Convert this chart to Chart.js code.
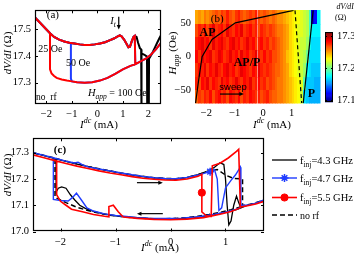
<!DOCTYPE html>
<html>
<head>
<meta charset="utf-8">
<script src="https://cdn.jsdelivr.net/npm/chart.js@4.4.1/dist/chart.umd.min.js"></script>
<style>
  body { margin: 0; background: #fff; }
  #wrap { position: relative; width: 354px; height: 256px; overflow: hidden; background: #fff; }
  canvas { position: absolute; }
</style>
</head>
<body>
<div id="wrap">
  <canvas id="chartA" width="177" height="130" style="left:0;top:0"></canvas>
  <canvas id="chartB" width="160" height="130" style="left:162px;top:0"></canvas>
  <canvas id="chartBar" width="32" height="112" style="left:322px;top:0"></canvas>
  <canvas id="chartC" width="354" height="128" style="left:0;top:128px"></canvas>
</div>
<script>
// ---------- panel (a): no rf, three fields ----------
const aTicksX = [-2, -1, 0, 1, 2];
const aTicksY = [17.3, 17.4, 17.5];
// AP branch, shared by the three fields (sweep up)
const apI = [-2.45, -2.3, -2.15, -2.0, -1.85, -1.7, -1.5, -1.3, -1.1, -0.9, -0.7, -0.5, -0.3, -0.1, 0.1, 0.3, 0.5, 0.65, 0.8, 0.88, 0.95, 1.05, 1.15, 1.22, 1.28, 1.35, 1.42, 1.47];
const apV = [17.545, 17.53, 17.515, 17.5, 17.485, 17.472, 17.462, 17.455, 17.45, 17.447, 17.444, 17.442, 17.442, 17.444, 17.447, 17.452, 17.46, 17.466, 17.474, 17.478, 17.474, 17.462, 17.445, 17.433, 17.435, 17.455, 17.472, 17.476];
// P branch (25 and 50 Oe)
const pI = [-1.86, -1.8, -1.7, -1.6, -1.4, -1.2, -1.0, -0.8, -0.5, -0.2, 0.1, 0.4, 0.7, 1.0, 1.3, 1.5, 1.7, 1.9, 2.1, 2.3, 2.5];
const pV = [17.35, 17.335, 17.325, 17.318, 17.312, 17.308, 17.305, 17.302, 17.3, 17.302, 17.308, 17.318, 17.333, 17.35, 17.363, 17.37, 17.38, 17.39, 17.405, 17.425, 17.45];
// 100 Oe after the AP branch: sharp dips instead of switching
const a100I = [1.54, 1.6, 1.67, 1.72, 1.73, 1.74, 1.85, 1.95, 1.96, 2.02, 2.03, 2.15, 2.25, 2.35, 2.45, 2.5];
const a100V = [17.472, 17.45, 17.43, 17.425, 17.15, 17.41, 17.405, 17.398, 17.15, 17.15, 17.39, 17.41, 17.43, 17.45, 17.47, 17.478];
const switch25 = [-1.86, 17.485];
const switch50 = [-1.04, 17.452];
const switchUp = [1.49, 17.37];

// ---------- panel (b): map of dV/dI (Ohm) vs I and H ----------
const bTicksX = [-2, -1, 0, 1];
const bTicksY = [-50, 0, 50];
const barTicks = [17.1, 17.2, 17.3];
const cLim = [17.095, 17.313];
const mapH = [60, 40, 20, 0, -20, -40, -60];        // row centres, 20 Oe tall
const mapI = Array.from({ length: 44 }, (_, j) => -2.35 + 0.1 * j); // column centres, 0.1 mA wide
const mapV = [
  [17.25, 17.255, 17.25, 17.26, 17.255, 17.26, 17.265, 17.27, 17.265, 17.275, 17.27, 17.28, 17.27, 17.265, 17.275, 17.28, 17.27, 17.265, 17.27, 17.275, 17.27, 17.28, 17.27, 17.265, 17.27, 17.265, 17.26, 17.265, 17.26, 17.255, 17.255, 17.25, 17.245, 17.24, 17.235, 17.23, 17.23, 17.225, 17.22, 17.215, 17.19, 17.115, 17.125, 17.175],
  [17.27, 17.28, 17.275, 17.285, 17.27, 17.28, 17.29, 17.275, 17.28, 17.285, 17.275, 17.29, 17.28, 17.275, 17.285, 17.28, 17.29, 17.275, 17.28, 17.285, 17.275, 17.28, 17.27, 17.28, 17.275, 17.27, 17.275, 17.27, 17.265, 17.26, 17.26, 17.255, 17.25, 17.24, 17.235, 17.23, 17.225, 17.225, 17.22, 17.215, 17.19, 17.175, 17.175, 17.175],
  [17.28, 17.285, 17.29, 17.28, 17.285, 17.275, 17.29, 17.28, 17.285, 17.29, 17.28, 17.275, 17.285, 17.29, 17.28, 17.285, 17.275, 17.28, 17.29, 17.28, 17.285, 17.275, 17.28, 17.285, 17.275, 17.28, 17.27, 17.275, 17.27, 17.265, 17.26, 17.255, 17.25, 17.24, 17.235, 17.23, 17.225, 17.22, 17.22, 17.21, 17.18, 17.17, 17.17, 17.17],
  [17.285, 17.275, 17.29, 17.28, 17.285, 17.29, 17.275, 17.28, 17.29, 17.285, 17.275, 17.28, 17.29, 17.28, 17.285, 17.275, 17.29, 17.28, 17.285, 17.275, 17.28, 17.29, 17.28, 17.275, 17.285, 17.275, 17.28, 17.27, 17.27, 17.265, 17.26, 17.255, 17.245, 17.24, 17.235, 17.23, 17.225, 17.22, 17.215, 17.2, 17.17, 17.17, 17.17, 17.17],
  [17.275, 17.285, 17.28, 17.29, 17.275, 17.285, 17.28, 17.29, 17.28, 17.275, 17.285, 17.29, 17.28, 17.285, 17.275, 17.28, 17.29, 17.285, 17.28, 17.275, 17.285, 17.28, 17.29, 17.28, 17.275, 17.28, 17.275, 17.27, 17.265, 17.265, 17.26, 17.255, 17.25, 17.24, 17.235, 17.23, 17.225, 17.22, 17.21, 17.175, 17.17, 17.165, 17.165, 17.165],
  [17.28, 17.27, 17.285, 17.28, 17.29, 17.275, 17.285, 17.28, 17.275, 17.29, 17.28, 17.285, 17.275, 17.28, 17.29, 17.28, 17.275, 17.285, 17.28, 17.29, 17.275, 17.28, 17.285, 17.275, 17.28, 17.27, 17.275, 17.27, 17.265, 17.26, 17.26, 17.255, 17.25, 17.245, 17.24, 17.235, 17.23, 17.225, 17.195, 17.165, 17.165, 17.165, 17.16, 17.16],
  [17.265, 17.275, 17.27, 17.28, 17.275, 17.285, 17.27, 17.28, 17.285, 17.275, 17.28, 17.27, 17.285, 17.28, 17.275, 17.285, 17.27, 17.28, 17.275, 17.285, 17.28, 17.275, 17.28, 17.27, 17.275, 17.28, 17.27, 17.265, 17.265, 17.26, 17.26, 17.255, 17.25, 17.245, 17.24, 17.235, 17.23, 17.22, 17.17, 17.165, 17.16, 17.16, 17.16, 17.16]
];
// phase boundaries drawn on the map
const apEdgeI = [-2.38, -2.27, -2.15, -1.8, -0.98, 1.07];
const apEdgeH = [-70, -35, 0, 26, 51, 70];
const pEdgeI = [1.76, 1.41];
const pEdgeH = [70, -70];
const noRfEdgeI = [1.12, 1.355];
const noRfEdgeH = [70, -70];

// ---------- panel (c): H = 0, with and without rf ----------
const cTicksX = [-2, -1, 0, 1];
const cTicksY = [17.0, 17.1, 17.2, 17.3];
const cLabels = ['4.3 GHz', '4.7 GHz', '5.5 GHz', 'no rf'];
const c43I = [-2.5, -2.3, -2.1, -1.9, -1.7, -1.5, -1.3, -1.1, -0.9, -0.7, -0.5, -0.3, -0.1, 0.1, 0.3, 0.5, 0.7, 0.8, 0.9, 0.97, 1.0, 1.03, 1.06, 1.1, 1.15, 1.2, 1.24, 1.28, 1.4, 1.55, 1.7,
  null, -2.08, -2.08, -2.04, -1.98, -1.9, -1.82, -1.74, -1.65, -1.55, -1.4, -1.2, -1.0, -0.8, -0.6, -0.4, -0.2, 0, 0.2, 0.4, 0.6, 0.8, 1.0, 1.2, 1.28];
const c43V = [17.3, 17.289, 17.278, 17.267, 17.257, 17.247, 17.238, 17.23, 17.222, 17.215, 17.209, 17.204, 17.201, 17.2, 17.206, 17.217, 17.232, 17.245, 17.262, 17.255, 17.2, 17.1, 17.025, 17.04, 17.1, 17.135, 17.11, 17.09, 17.1, 17.107, 17.12,
  null, 17.277, 17.15, 17.165, 17.17, 17.165, 17.14, 17.12, 17.1, 17.088, 17.077, 17.066, 17.06, 17.056, 17.053, 17.05, 17.049, 17.049, 17.05, 17.053, 17.058, 17.065, 17.073, 17.083, 17.09];
const c47I = [-2.5, -2.3, -2.1, -1.9, -1.75, -1.68, -1.6, -1.5, -1.3, -1.1, -0.9, -0.7, -0.5, -0.3, -0.1, 0.1, 0.3, 0.5, 0.72, 0.8, 0.85, 0.88, 0.93, 1.0, 1.1, 1.18, 1.27, 1.28, 1.4, 1.55, 1.7,
  null, -2.13, -2.13, -2.0, -1.86, -1.78, -1.71, -1.62, -1.52, -1.4, -1.2, -1.0, -0.8, -0.6, -0.4, -0.2, 0, 0.2, 0.4, 0.6, 0.8, 1.0, 1.2, 1.28];
const c47V = [17.3, 17.29, 17.279, 17.268, 17.261, 17.264, 17.254, 17.246, 17.238, 17.231, 17.223, 17.216, 17.21, 17.205, 17.202, 17.201, 17.206, 17.215, 17.228, 17.236, 17.2, 17.08, 17.09, 17.166, 17.195, 17.215, 17.245, 17.1, 17.1, 17.108, 17.12,
  null, 17.282, 17.122, 17.118, 17.116, 17.13, 17.146, 17.12, 17.09, 17.078, 17.067, 17.061, 17.057, 17.053, 17.051, 17.05, 17.05, 17.051, 17.054, 17.059, 17.066, 17.074, 17.085, 17.092];
const c55I = [-2.5, -2.3, -2.1, -1.9, -1.7, -1.5, -1.3, -1.1, -0.9, -0.7, -0.5, -0.3, -0.1, 0.1, 0.3, 0.5, 0.57, 0.57, 0.57, 0.65, 0.74, 0.76, 0.9, 1.05, 1.2, 1.24, 1.27, 1.4, 1.55, 1.7,
  null, -2.07, -2.07, -2.0, -1.9, -1.8, -1.6, -1.4, -1.2, -1.12, -1.12, -1.04, -0.95, -0.86, -0.6, -0.3, 0, 0.3, 0.6, 0.9, 1.1, 1.27];
const c55V = [17.292, 17.281, 17.27, 17.259, 17.249, 17.24, 17.231, 17.223, 17.216, 17.209, 17.203, 17.199, 17.196, 17.195, 17.2, 17.21, 17.218, 17.148, 17.075, 17.06, 17.058, 17.25, 17.26, 17.28, 17.305, 17.313, 17.093, 17.098, 17.105, 17.115,
  null, 17.268, 17.14, 17.115, 17.1, 17.085, 17.075, 17.065, 17.058, 17.056, 17.095, 17.1, 17.075, 17.055, 17.05, 17.046, 17.045, 17.047, 17.053, 17.066, 17.076, 17.09];
const cNoI = [-2.5, -2.3, -2.1, -1.9, -1.7, -1.5, -1.3, -1.1, -0.9, -0.7, -0.5, -0.3, -0.1, 0.1, 0.3, 0.5, 0.7, 0.85, 1.0, 1.15, 1.31, 1.31, 1.5, 1.7,
  null, -2.1, -2.1, -2.0, -1.9, -1.7, -1.5, -1.3, -1.1, -0.9, -0.7, -0.5, -0.3, -0.1, 0.1, 0.3, 0.5, 0.7, 0.9, 1.1, 1.31];
const cNoV = [17.3, 17.29, 17.279, 17.268, 17.258, 17.248, 17.239, 17.231, 17.223, 17.216, 17.21, 17.205, 17.202, 17.201, 17.206, 17.216, 17.23, 17.236, 17.215, 17.202, 17.2, 17.098, 17.106, 17.12,
  null, 17.276, 17.13, 17.12, 17.11, 17.092, 17.08, 17.07, 17.062, 17.057, 17.053, 17.05, 17.049, 17.049, 17.05, 17.053, 17.058, 17.065, 17.073, 17.083, 17.096];
const c47Star = c47I.indexOf(0.72);   // star marker on the 4.7 GHz trace
const c55Dot = c55V.indexOf(17.148);  // dot marker on the 5.5 GHz trace

// ---------- helpers ----------
const SERIF = '"Liberation Serif", "Times New Roman", serif';
const SANS = '"Liberation Sans", Arial, sans-serif';
const font = (size, style = '') => `${style} ${size}px ${SERIF}`;
const minus = v => String(v).replace('-', '\u2212');
const pts = (xs, ys) => xs.map((x, i) => ({ x: x === null ? NaN : x, y: ys[i] }));
const join = (...parts) => parts.flat();

function jet(v) {
  const t = Math.min(1, Math.max(0, (v - cLim[0]) / (cLim[1] - cLim[0])));
  const c = k => Math.round(255 * Math.min(1, Math.max(0, 1.5 - Math.abs(4 * t - k))));
  return `rgb(${c(3)},${c(2)},${c(1)})`;
}

function rich(ctx, x, y, parts, align = 'left', rot = 0) {
  ctx.save();
  ctx.translate(x, y);
  if (rot) ctx.rotate(rot);
  let w = 0;
  parts.forEach(p => { ctx.font = p.font; w += ctx.measureText(p.text).width; });
  let cx = align === 'center' ? -w / 2 : align === 'right' ? -w : 0;
  ctx.textBaseline = 'alphabetic';
  parts.forEach(p => {
    ctx.font = p.font;
    ctx.fillStyle = p.color || '#000';
    ctx.fillText(p.text, cx, p.dy || 0);
    cx += ctx.measureText(p.text).width;
  });
  ctx.restore();
}

const yTitle = (ctx, x, y) => rich(ctx, x, y, [
  { text: 'dV/dI', font: font(11, 'italic') }, { text: ' (\u03a9)', font: font(11) }], 'center', -Math.PI / 2);
const xTitle = (ctx, x, y) => rich(ctx, x, y, [
  { text: 'I', font: font(11, 'italic') }, { text: 'dc', font: font(8, 'italic'), dy: -5 },
  { text: ' (mA)', font: font(11) }], 'center');

function arrow(ctx, x0, y0, x1, y1, head = 4) {
  const a = Math.atan2(y1 - y0, x1 - x0);
  ctx.save();
  ctx.strokeStyle = '#000'; ctx.fillStyle = '#000'; ctx.lineWidth = 1.2;
  ctx.beginPath(); ctx.moveTo(x0, y0); ctx.lineTo(x1 - head * Math.cos(a), y1 - head * Math.sin(a)); ctx.stroke();
  ctx.beginPath();
  ctx.moveTo(x1, y1);
  ctx.lineTo(x1 - head * 1.8 * Math.cos(a) + head * 0.8 * Math.sin(a), y1 - head * 1.8 * Math.sin(a) - head * 0.8 * Math.cos(a));
  ctx.lineTo(x1 - head * 1.8 * Math.cos(a) - head * 0.8 * Math.sin(a), y1 - head * 1.8 * Math.sin(a) + head * 0.8 * Math.cos(a));
  ctx.closePath(); ctx.fill();
  ctx.restore();
}

// inward ticks and a box, like the original axes
function frame(chart, len, color = '#000', box = true) {
  const { ctx, chartArea: a, scales: { x, y } } = chart;
  ctx.save();
  ctx.strokeStyle = color; ctx.lineWidth = 1;
  ctx.beginPath();
  x.ticks.forEach(t => {
    const px = Math.round(x.getPixelForValue(t.value)) + 0.5;
    ctx.moveTo(px, a.bottom); ctx.lineTo(px, a.bottom - len);
    ctx.moveTo(px, a.top); ctx.lineTo(px, a.top + len);
  });
  y.ticks.forEach(t => {
    const py = Math.round(y.getPixelForValue(t.value)) + 0.5;
    ctx.moveTo(a.left, py); ctx.lineTo(a.left + len, py);
    ctx.moveTo(a.right, py); ctx.lineTo(a.right - len, py);
  });
  ctx.stroke();
  if (box) {
    ctx.lineWidth = 1.2;
    ctx.strokeRect(Math.round(a.left) + 0.5, Math.round(a.top) + 0.5, Math.round(a.width) - 1, Math.round(a.height) - 1);
  }
  ctx.restore();
}

function axis(min, max, ticks, fmt, size, extra = {}) {
  return Object.assign({
    type: 'linear', min, max,
    afterBuildTicks: s => { s.ticks = ticks.map(v => ({ value: v })); },
    grid: { display: false, drawTicks: false },
    border: { display: false },
    ticks: { color: '#000', font: { family: SERIF, size: 10.5 }, padding: 4, callback: fmt, autoSkip: false, maxRotation: 0 },
    afterFit: s => { if (s.isHorizontal()) s.height = size; else s.width = size; }
  }, extra);
}

Chart.defaults.animation = false;
Chart.defaults.responsive = false;
Chart.defaults.plugins.legend.display = false;
Chart.defaults.plugins.tooltip.enabled = false;

const line = (data, color, width, extra = {}) => Object.assign({
  data, borderColor: color, backgroundColor: color, borderWidth: width,
  showLine: true, pointRadius: 0, tension: 0, spanGaps: false
}, extra);

// ---------- chart (a) ----------
const upTo = (lim) => apI.filter(v => v <= lim).map((v, i) => ({ x: v, y: apV[i] }));
const pFrom = (lim) => pI.map((v, i) => ({ x: v, y: pV[i] })).filter(p => p.x >= lim);
const gap = { x: NaN, y: NaN };

new Chart(document.getElementById('chartA'), {
  type: 'scatter',
  data: {
    datasets: [
      line(join(upTo(1.47), [{ x: switchUp[0], y: switchUp[1] }], pFrom(1.5), gap,
        [{ x: switch25[0], y: switch25[1] }], pFrom(-1.86)), '#ff0000', 2, { order: 0 }),
      line(join(upTo(1.47), [{ x: switchUp[0], y: switchUp[1] }], pFrom(1.5), gap,
        [{ x: switch50[0], y: switch50[1] }, { x: switch50[0], y: 17.315 }], pFrom(-1.0)), '#1f3cff', 2, { order: 1 }),
      line(join(upTo(1.47), pts(a100I, a100V)), '#000000', 2, { order: 2 })
    ]
  },
  options: {
    layout: { padding: { top: 2, right: 16, left: 0, bottom: 0 } },
    scales: {
      x: axis(-2.45, 2.5, aTicksX, v => minus(v), 26),
      y: axis(17.22, 17.572, aTicksY, v => v.toFixed(1), 35)
    }
  },
  plugins: [{
    id: 'decorA',
    afterDraw(chart) {
      const { ctx, scales: { x, y } } = chart;
      frame(chart, 3);
      const X = v => x.getPixelForValue(v), Y = v => y.getPixelForValue(v);
      rich(ctx, X(-1.75), Y(17.542), [{ text: '(a)', font: font(11) }], 'center');
      rich(ctx, X(-1.85), Y(17.414), [{ text: '25 Oe', font: font(10) }], 'center');
      rich(ctx, X(-0.76), Y(17.362), [{ text: '50 Oe', font: font(10) }], 'center');
      rich(ctx, X(-0.37), Y(17.25), [{ text: 'H', font: font(10.5, 'italic') },
        { text: 'app', font: font(7.5, 'italic'), dy: 3 }, { text: ' = 100 Oe', font: font(10) }]);
      rich(ctx, X(-2.41), Y(17.234), [{ text: 'no  rf', font: font(9.5) }]);
      rich(ctx, X(0.51), Y(17.52), [{ text: 'I', font: font(10.5, 'italic') },
        { text: 't', font: font(7.5, 'italic'), dy: 3 }]);
      arrow(ctx, X(0.84), Y(17.548), X(0.84), Y(17.5), 2.5);
      yTitle(ctx, 11, 53);
      xTitle(ctx, 99, 128);
    }
  }]
});

// ---------- chart (b) ----------
new Chart(document.getElementById('chartB'), {
  type: 'scatter',
  data: {
    datasets: [
      line(pts(apEdgeI, apEdgeH), '#000', 1.2),
      line(pts(pEdgeI, pEdgeH), '#000', 1.2),
      line(pts(noRfEdgeI, noRfEdgeH), '#000', 1.2, { borderDash: [4, 3] })
    ]
  },
  options: {
    layout: { padding: { top: 1, right: 2, left: 0, bottom: 0 } },
    scales: {
      x: axis(-2.4, 2.0, bTicksX, v => minus(v), 27),
      y: axis(-70, 70, bTicksY, v => minus(v), 33)
    }
  },
  plugins: [{
    id: 'map',
    beforeDatasetsDraw(chart) {
      const { ctx, scales: { x, y } } = chart;
      mapH.forEach((h, r) => {
        const y0 = Math.round(y.getPixelForValue(h + 10)), y1 = Math.round(y.getPixelForValue(h - 10));
        mapI.forEach((c, j) => {
          const x0 = Math.round(x.getPixelForValue(c - 0.05)), x1 = Math.round(x.getPixelForValue(c + 0.05));
          ctx.fillStyle = jet(mapV[r][j]);
          ctx.fillRect(x0, y0, x1 - x0 + 0.5, y1 - y0 + 0.5);
        });
      });
    },
    afterDraw(chart) {
      const { ctx, scales: { x, y } } = chart;
      const X = v => x.getPixelForValue(v), Y = v => y.getPixelForValue(v);
      rich(ctx, X(-1.62), Y(53), [{ text: '(b)', font: font(11) }], 'center');
      rich(ctx, X(-1.96), Y(31), [{ text: 'AP', font: font(12, 'bold') }], 'center');
      rich(ctx, X(-0.57), Y(-14), [{ text: 'AP/P', font: font(12, 'bold') }], 'center');
      rich(ctx, X(-1.06), Y(-50.5), [{ text: 'sweep', font: `9.5px ${SANS}` }], 'center');
      arrow(ctx, X(-1.52), Y(-56.5), X(-0.68), Y(-56.5), 2.5);
      rich(ctx, X(1.7), Y(-61), [{ text: 'P', font: font(12, 'bold') }], 'center');
      rich(ctx, 14, 53, [{ text: 'H', font: font(11, 'italic') },
        { text: 'app', font: font(8, 'italic'), dy: 3 }, { text: ' (Oe)', font: font(11) }], 'center', -Math.PI / 2);
      xTitle(ctx, 110, 128);
    }
  }]
});

// ---------- colour bar ----------
new Chart(document.getElementById('chartBar'), {
  type: 'scatter',
  data: { datasets: [] },
  options: {
    layout: { padding: { top: 32, right: 0, left: 3, bottom: 10 } },
    scales: {
      x: { display: false, min: 0, max: 1 },
      y: axis(cLim[0], cLim[1], barTicks, v => v.toFixed(1), 21, { position: 'right' })
    }
  },
  plugins: [{
    id: 'bar',
    afterDraw(chart) {
      const { ctx, chartArea: a, scales: { y } } = chart;
      const n = 64, step = (cLim[1] - cLim[0]) / n;
      for (let k = 0; k < n; k++) {
        const v0 = cLim[0] + k * step;
        const y0 = y.getPixelForValue(v0 + step), y1 = y.getPixelForValue(v0);
        ctx.fillStyle = jet(v0 + step / 2);
        ctx.fillRect(a.left, y0, a.width, y1 - y0 + 0.6);
      }
      ctx.save();
      ctx.strokeStyle = '#000'; ctx.lineWidth = 1;
      ctx.strokeRect(Math.round(a.left) + 0.5, Math.round(a.top) + 0.5, Math.round(a.width) - 1, Math.round(a.height) - 1);
      ctx.beginPath();
      barTicks.forEach(t => {
        const py = Math.round(y.getPixelForValue(t)) + 0.5;
        ctx.moveTo(a.left, py); ctx.lineTo(a.left + 2, py);
        ctx.moveTo(a.right, py); ctx.lineTo(a.right - 2, py);
      });
      ctx.stroke();
      ctx.restore();
      rich(ctx, 14.5, 9, [{ text: 'dV/dI', font: font(7.8, 'italic') }]);
      rich(ctx, 13, 20, [{ text: '(\u03a9)', font: font(8) }]);
    }
  }]
});

// ---------- chart (c) ----------
const marker = (idx, r) => ctx => (ctx.dataIndex === idx ? r : 0);
new Chart(document.getElementById('chartC'), {
  type: 'scatter',
  data: {
    datasets: [
      line(pts(c55I, c55V), '#ff0000', 1.6, { order: 0, pointRadius: marker(c55Dot, 3.6), pointStyle: 'circle', pointBorderWidth: 1 }),
      line(pts(c47I, c47V), '#1f3cff', 1.4, { order: 1, pointRadius: marker(c47Star, 4), pointStyle: 'star', pointBorderWidth: 1.5 }),
      line(pts(c43I, c43V), '#000000', 1.3, { order: 2 }),
      line(pts(cNoI, cNoV), '#000000', 1.5, { order: 3, borderDash: [5, 3] })
    ]
  },
  options: {
    layout: { padding: { top: 7, right: 90, left: 0, bottom: 0 } },
    scales: {
      x: axis(-2.5, 1.7, cTicksX, v => minus(v), 24.5),
      y: axis(17.0, 17.355, cTicksY, v => v.toFixed(1), 33)
    }
  },
  plugins: [{
    id: 'decorC',
    afterDraw(chart) {
      const { ctx, scales: { x, y } } = chart;
      frame(chart, 3);
      const X = v => x.getPixelForValue(v), Y = v => y.getPixelForValue(v);
      rich(ctx, X(-2.01), Y(17.3), [{ text: '(c)', font: font(11, 'bold') }], 'center');
      arrow(ctx, X(-0.61), Y(17.186), X(-0.14), Y(17.186), 2.5);
      arrow(ctx, X(-0.14), Y(17.068), X(-0.61), Y(17.068), 2.5);
      // legend, styled from the datasets (rows: 4.3, 4.7, 5.5 GHz, no rf)
      [2, 1, 0, 3].forEach((d, k) => {
        const ds = chart.data.datasets[d];
        const ly = [32, 50, 69.5, 87][k];
        ctx.save();
        ctx.strokeStyle = ds.borderColor; ctx.fillStyle = ds.borderColor; ctx.lineWidth = ds.borderWidth;
        ctx.setLineDash(ds.borderDash || []);
        ctx.beginPath(); ctx.moveTo(272, ly); ctx.lineTo(297, ly); ctx.stroke();
        ctx.setLineDash([]);
        if (d === 0 || d === 1) {
          ctx.lineWidth = ds.pointBorderWidth;
          Chart.helpers.drawPoint(ctx, { pointStyle: ds.pointStyle, radius: d === 0 ? 3.6 : 4, borderWidth: ds.pointBorderWidth }, 284.5, ly);
        }
        ctx.restore();
        const parts = cLabels[k] === 'no rf' ? [{ text: 'no rf', font: font(10) }]
          : [{ text: 'f', font: font(10.5) }, { text: 'inj', font: font(7.5), dy: 3 }, { text: '=' + cLabels[k], font: font(10.5) }];
        rich(ctx, 300, ly + 3.5, parts);
      });
      yTitle(ctx, 11, 47);
      xTitle(ctx, 160, 123);
    }
  }]
});
</script>
</body>
</html>
